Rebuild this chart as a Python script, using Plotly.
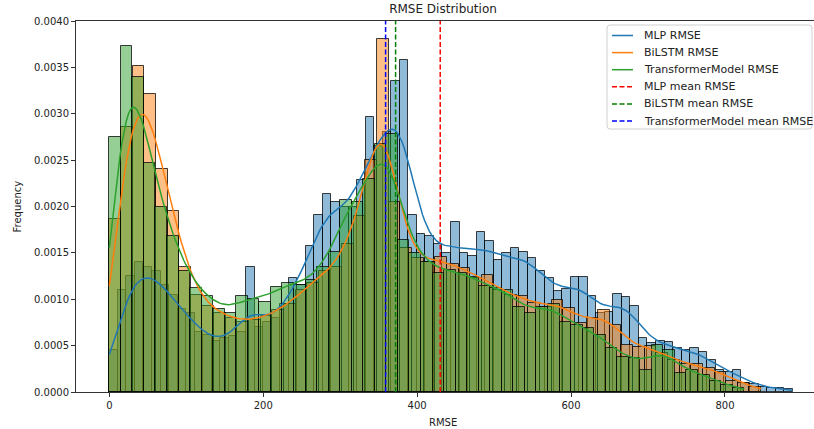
import numpy as np
import plotly.graph_objects as go

# ---------------- data ----------------
MLP_MAX = 888.0
BILSTM_MAX = 847.0
TRANS_MAX = 825.0

mlp_density = [
    0.00045, 0.00110, 0.00125, 0.00140, 0.00135, 0.00130, 0.00115, 0.00105, 0.00090, 0.00085,
    0.00065, 0.00062, 0.00055, 0.00058, 0.00060, 0.00065, 0.00135, 0.00070, 0.00075, 0.00080,
    0.00095, 0.00123, 0.00115, 0.00157, 0.00191, 0.00213, 0.00205, 0.00200, 0.00200, 0.00229,
    0.00296, 0.00265, 0.00280, 0.00335, 0.00358, 0.00191, 0.00170, 0.00168, 0.00160, 0.00150,
    0.00183, 0.00150, 0.00147, 0.00173, 0.00163, 0.00142, 0.00150, 0.00155, 0.00151, 0.00145,
    0.00131, 0.00123, 0.00109, 0.00111, 0.00124, 0.00124, 0.00103, 0.00085, 0.00086, 0.00106,
    0.00102, 0.00093, 0.00058, 0.00053, 0.00055, 0.00054, 0.00047, 0.00045, 0.00047, 0.00043,
    0.00035, 0.00024, 0.00022, 0.00024, 0.00010, 0.00009, 0.00005, 0.00004, 0.00004, 0.00003,
]

bilstm_density = [
    0.00187, 0.00286, 0.00351, 0.00321, 0.00240, 0.00195, 0.00135, 0.00105, 0.00093, 0.00085,
    0.00080, 0.00076, 0.00078, 0.00082, 0.00088, 0.00095, 0.00110, 0.00118, 0.00130, 0.00135,
    0.00160, 0.00190, 0.00250, 0.00381, 0.00205, 0.00155, 0.00145, 0.00140, 0.00146, 0.00138,
    0.00134, 0.00123, 0.00126, 0.00110, 0.00105, 0.00103, 0.00096, 0.00092, 0.00099, 0.00091,
    0.00074, 0.00080, 0.00088, 0.00072, 0.00051, 0.00048, 0.00050, 0.00042, 0.00035, 0.00030,
    0.00030, 0.00026, 0.00022, 0.00012, 0.00010, 0.00005,
]

trans_density = [
    0.00275, 0.00373, 0.00340, 0.00247, 0.00200, 0.00168, 0.00131, 0.00112, 0.00103, 0.00090,
    0.00085, 0.00103, 0.00100, 0.00097, 0.00113, 0.00117, 0.00115, 0.00121, 0.00135, 0.00151,
    0.00207, 0.00205, 0.00230, 0.00267, 0.00278, 0.00164, 0.00150, 0.00140, 0.00128, 0.00132,
    0.00128, 0.00124, 0.00114, 0.00112, 0.00110, 0.00092, 0.00085, 0.00092, 0.00095, 0.00075,
    0.00072, 0.00069, 0.00061, 0.00047, 0.00038, 0.00037, 0.00024, 0.00051, 0.00045, 0.00020,
    0.00024, 0.00018, 0.00012, 0.00008, 0.00004,
]

mean_mlp = 430.0
mean_bilstm = 372.0
mean_trans = 359.0

x_ticks = [0, 200, 400, 600, 800]
y_ticks = [0.0000, 0.0005, 0.0010, 0.0015, 0.0020, 0.0025, 0.0030, 0.0035, 0.0040]

# ---------------- styling ----------------
FONT = "DejaVu Sans"
BW = 18.0
DASH = "5px,2.5px"

# plot area in pixels
L, R, T, B = 76, 814, 21, 392
PW, PH = R - L, B - T


def px_x(px):
    return (px - L) / PW


def px_y(py):
    return (B - py) / PH


series = [
    ("MLP RMSE", mlp_density, MLP_MAX, (31, 119, 180)),
    ("BiLSTM RMSE", bilstm_density, BILSTM_MAX, (255, 127, 14)),
    ("TransformerModel RMSE", trans_density, TRANS_MAX, (44, 160, 44)),
]
means = [("MLP mean RMSE", mean_mlp, "#ff0000"),
         ("BiLSTM mean RMSE", mean_bilstm, "#008000"),
         ("TransformerModel mean RMSE", mean_trans, "#0000ff")]

fig = go.Figure()

kde_traces = []
for name, dens, vmax, rgb in series:
    dens = np.array(dens)
    n = len(dens)
    w = vmax / n
    centers = w * (np.arange(n) + 0.5)
    fig.add_trace(go.Bar(
        x=centers, y=dens, width=w,
        marker=dict(color="rgba(%d,%d,%d,0.5)" % rgb,
                    line=dict(color="rgba(0,0,0,0.75)", width=1)),
        showlegend=False, hoverinfo="skip",
    ))
    # Gaussian KDE from the binned data (cut at data range)
    grid = np.linspace(0, vmax, 300)
    weights = dens * w
    k = np.exp(-0.5 * ((grid[:, None] - centers[None, :]) / BW) ** 2) / (BW * np.sqrt(2 * np.pi))
    kde = (k * weights[None, :]).sum(axis=1) / weights.sum()
    kde_traces.append(go.Scatter(
        x=grid, y=kde, mode="lines", name=name, showlegend=False,
        line=dict(color="rgb(%d,%d,%d)" % rgb, width=1.5),
        hoverinfo="skip",
    ))

for t in kde_traces:
    fig.add_trace(t)

for name, m, col in means:
    fig.add_trace(go.Scatter(
        x=[m, m], y=[0, 0.004], mode="lines", name=name, showlegend=False,
        line=dict(color=col, width=1.5, dash=DASH),
        hoverinfo="skip",
    ))

# ---------------- legend (drawn like matplotlib's) ----------------
bx0, by0, bx1, by1 = 607, 25, 812, 129
rad = 3
x0p, x1p = px_x(bx0), px_x(bx1)
y0p, y1p = px_y(by0), px_y(by1)
rx, ry = rad / PW, rad / PH
path = (f"M {x0p+rx},{y0p} L {x1p-rx},{y0p} Q {x1p},{y0p} {x1p},{y0p-ry} "
        f"L {x1p},{y1p+ry} Q {x1p},{y1p} {x1p-rx},{y1p} L {x0p+rx},{y1p} "
        f"Q {x0p},{y1p} {x0p},{y1p+ry} L {x0p},{y0p-ry} Q {x0p},{y0p} {x0p+rx},{y0p} Z")
fig.add_shape(type="path", path=path, xref="paper", yref="paper",
              line=dict(color="#d0d0d0", width=1), fillcolor="rgba(255,255,255,0.85)",
              layer="above")

entries = [(s[0], "rgb(%d,%d,%d)" % s[3], "solid") for s in series] + \
          [(m[0], m[2], DASH) for m in means]
row0, row_step = 35.5, 17.1
for i, (name, col, dash) in enumerate(entries):
    ry_px = row0 + i * row_step
    fig.add_shape(type="line", xref="paper", yref="paper",
                  x0=px_x(612), x1=px_x(633), y0=px_y(ry_px), y1=px_y(ry_px),
                  line=dict(color=col, width=1.5, dash=dash), layer="above")
    fig.add_annotation(text=name, xref="paper", yref="paper", x=px_x(642), y=px_y(ry_px),
                       showarrow=False, xanchor="left", yanchor="middle",
                       font=dict(family=FONT, size=11, color="#222"))

fig.update_layout(
    width=814, height=429,
    margin=dict(l=L, r=814 - R, t=T, b=429 - B),
    paper_bgcolor="white", plot_bgcolor="white",
    barmode="overlay", bargap=0,
    font=dict(family=FONT, size=10, color="#222"),
    showlegend=False,
    title=dict(text="RMSE Distribution", x=443 / 814, xref="container", xanchor="center",
               y=1 - 9 / 429, yref="container", yanchor="middle",
               font=dict(family=FONT, size=12, color="#222")),
)

fig.update_xaxes(
    range=[-43.3, 915.7], tickvals=x_ticks, ticktext=[str(v) for v in x_ticks],
    showgrid=False, zeroline=False, showline=True, linecolor="#333", linewidth=1,
    mirror=True, ticks="outside", ticklen=4, tickwidth=1, tickcolor="#333",
    tickfont=dict(family=FONT, size=10, color="#222"),
)
fig.update_yaxes(
    range=[0, 0.004], tickvals=y_ticks, tickformat=".4f",
    showgrid=False, zeroline=False, showline=True, linecolor="#333", linewidth=1,
    ticks="outside", ticklen=4, tickwidth=1, tickcolor="#333",
    tickfont=dict(family=FONT, size=10, color="#222"),
)

fig.add_annotation(text="RMSE", xref="paper", yref="paper", x=px_x(443), y=px_y(422),
                   showarrow=False, xanchor="center", yanchor="middle",
                   font=dict(family=FONT, size=10, color="#222"))
fig.add_annotation(text="Frequency", xref="paper", yref="paper", x=px_x(17), y=0.5,
                   showarrow=False, textangle=-90, xanchor="center", yanchor="middle",
                   font=dict(family=FONT, size=10, color="#222"))

fig.write_html("out.html")
